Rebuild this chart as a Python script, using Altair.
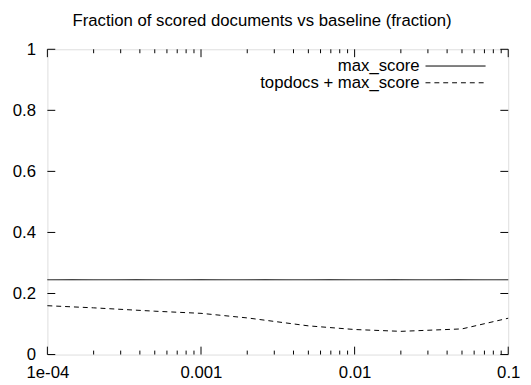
import altair as alt
import pandas as pd

# ---- data ----
x_vals = [1e-4, 2e-4, 5e-4, 1e-3, 2e-3, 5e-3, 1e-2, 2e-2, 5e-2, 1e-1]
max_score = [0.245, 0.245, 0.245, 0.245, 0.245, 0.245, 0.245, 0.245, 0.245, 0.245]
topdocs_max_score = [0.160, 0.153, 0.142, 0.135, 0.120, 0.094, 0.082, 0.076, 0.084, 0.119]

series_names = ["max_score", "topdocs + max_score"]
title_text = "Fraction of scored documents vs baseline (fraction)"

x_major_ticks = [1e-4, 1e-3, 1e-2, 1e-1]
x_major_labels = ["1e-04", "0.001", "0.01", "0.1"]
x_minor_ticks = [2e-4, 3e-4, 4e-4, 5e-4, 6e-4, 7e-4, 8e-4, 9e-4,
                 2e-3, 3e-3, 4e-3, 5e-3, 6e-3, 7e-3, 8e-3, 9e-3,
                 2e-2, 3e-2, 4e-2, 5e-2, 6e-2, 7e-2, 8e-2, 9e-2]
y_ticks = [0, 0.2, 0.4, 0.6, 0.8, 1.0]

FONT = "Liberation Sans"
FS = 17
W, H = 468, 310

df = pd.DataFrame({
    "x": x_vals * 2,
    "y": max_score + topdocs_max_score,
    "series": [series_names[0]] * len(x_vals) + [series_names[1]] * len(x_vals),
})

label_expr = " : ".join(
    f"datum.value < {v * 3} ? '{l}'" for v, l in zip(x_major_ticks[:-1], x_major_labels[:-1])
) + f" : '{x_major_labels[-1]}'"

xscale = alt.Scale(type="log", domain=[1e-4, 0.1], nice=False)
yscale = alt.Scale(domain=[0, 1], nice=False)

xaxis = alt.Axis(values=x_major_ticks, labelExpr=label_expr, title=None, grid=False,
                 domain=False, ticks=False, labelFont=FONT, labelFontSize=FS,
                 labelColor="black", labelPadding=10, labelFlush=False)
yaxis = alt.Axis(values=y_ticks, format="~g", title=None, grid=False, domain=False,
                 ticks=False, labelFont=FONT, labelFontSize=FS, labelColor="black",
                 labelPadding=12)

base = alt.Chart(df)
lines = base.mark_line(color="black", strokeWidth=1).encode(
    x=alt.X("x:Q", scale=xscale, axis=xaxis),
    y=alt.Y("y:Q", scale=yscale, axis=yaxis),
    strokeDash=alt.StrokeDash("series:N", scale=alt.Scale(domain=series_names,
                              range=[[1, 0], [5, 4]]), legend=None),
    detail="series:N",
)

# tick marks (inward, on all four sides)
xmaj = pd.DataFrame({"t": x_major_ticks})
xmin = pd.DataFrame({"t": x_minor_ticks})
ytk = pd.DataFrame({"t": y_ticks})

def xt(d, y0, y1):
    return alt.Chart(d).mark_rule(color="black", strokeWidth=1).encode(
        x=alt.X("t:Q", scale=xscale), y=alt.value(y0), y2=alt.value(y1))

def yt(d, x0, x1):
    return alt.Chart(d).mark_rule(color="black", strokeWidth=1).encode(
        y=alt.Y("t:Q", scale=yscale), x=alt.value(x0), x2=alt.value(x1))

ticks = [xt(xmaj, H, H - 8), xt(xmaj, 0, 8), xt(xmin, H, H - 4), xt(xmin, 0, 4),
         yt(ytk, 0, 8), yt(ytk, W, W - 8)]

# key (top right, inside)
leg1 = pd.DataFrame({"label": [series_names[0]]})
leg2 = pd.DataFrame({"label": [series_names[1]]})
text_x = 378
row_y = [17, 34]
sx0, sx1 = 384, 445

key = [
    alt.Chart(leg1).mark_text(align="right", baseline="middle", font=FONT, fontSize=FS,
                              color="black").encode(text="label:N", x=alt.value(text_x), y=alt.value(row_y[0])),
    alt.Chart(leg2).mark_text(align="right", baseline="middle", font=FONT, fontSize=FS,
                              color="black").encode(text="label:N", x=alt.value(text_x), y=alt.value(row_y[1])),
    alt.Chart(leg1).mark_rule(color="black", strokeWidth=1).encode(
        x=alt.value(sx0), x2=alt.value(sx1), y=alt.value(row_y[0])),
    alt.Chart(leg2).mark_rule(color="black", strokeWidth=1, strokeDash=[5, 4]).encode(
        x=alt.value(sx0), x2=alt.value(sx1), y=alt.value(row_y[1])),
]

chart = alt.layer(lines, *ticks, *key).properties(
    width=W, height=H,
    title=alt.Title(title_text, font=FONT, fontSize=FS, fontWeight="normal",
                    color="black", anchor="middle", offset=11, dx=-16),
    autosize=alt.AutoSizeParams(type="none"),
    padding={"left": 40, "top": 39, "right": 15, "bottom": 28},
).configure_view(stroke="black", strokeWidth=1).configure(background="white")

chart.save("out.html", embed_options={"renderer": "svg", "actions": False})
